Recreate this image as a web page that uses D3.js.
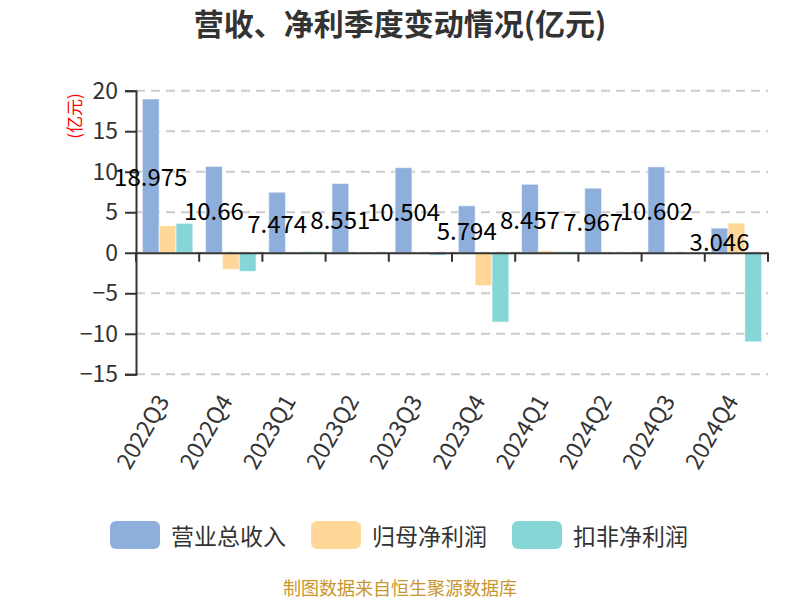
<!DOCTYPE html>
<html><head><meta charset="utf-8">
<script src="https://cdn.jsdelivr.net/npm/d3@7"></script>
<style>body{margin:0;background:#fff}svg{display:block}text{font-family:"Noto Sans CJK SC","Noto Sans",sans-serif}</style>
</head><body><svg id="c" width="800" height="600"></svg>
<script>
const categories = ['2022Q3','2022Q4','2023Q1','2023Q2','2023Q3','2023Q4','2024Q1','2024Q2','2024Q3','2024Q4'];
const revenue = [18.975,10.66,7.474,8.551,10.504,5.794,8.457,7.967,10.602,3.046];
const netProfit = [3.33,-2.05,0.1,0.05,0.05,-4.07,0.25,0.01,0.05,3.66];
const deductedProfit = [3.63,-2.3,0.15,0.02,-0.3,-8.56,0.16,0.05,0.02,-10.99];
const seriesNames = ['营业总收入','归母净利润','扣非净利润'];
const colors = ['#8EAEDB','#FFD899','#86D6D8'];
const yTicks = [-15,-10,-5,0,5,10,15,20];
const title = '营收、净利季度变动情况(亿元)';
const unit = '(亿元)';
const footer = '制图数据来自恒生聚源数据库';

const svg = d3.select('#c');
const x0 = 136, x1 = 768;
const y = d3.scaleLinear().domain([-15,20]).range([374.3,90.7]);
const x = d3.scaleBand().domain(categories).range([x0,x1]).padding(0);
const inner = d3.scaleBand().domain([0,1,2]).range([0.1*x.bandwidth(),0.9*x.bandwidth()]).padding(0);

// title
svg.append('text').attr('x',400).attr('y',22).attr('text-anchor','middle').attr('dominant-baseline','central')
  .attr('font-size',30).attr('font-weight','bold').attr('fill','#333').text(title);

// grid
svg.append('g').selectAll('line').data(yTicks).join('line')
  .attr('x1',x0).attr('x2',x1).attr('y1',d=>y(d)).attr('y2',d=>y(d))
  .attr('stroke','#ccc').attr('stroke-width',2).attr('stroke-dasharray','9,6');

// y axis
const ya = svg.append('g').attr('transform',`translate(${x0},0)`)
  .call(d3.axisLeft(y).tickValues(yTicks).tickSize(11).tickPadding(7));
ya.select('.domain').attr('stroke','#333').attr('stroke-width',2);
ya.selectAll('.tick line').attr('stroke','#333').attr('stroke-width',2);
ya.selectAll('.tick text').attr('font-size',23).attr('fill','#333').attr('font-family','"Noto Sans CJK SC",sans-serif');

// unit
svg.append('text').attr('transform','translate(73,116) rotate(-90)').attr('text-anchor','middle')
  .attr('dominant-baseline','central').attr('font-size',17).attr('fill','#f00').text(unit);

// bars
const series = [revenue, netProfit, deductedProfit];
series.forEach((vals,si)=>{
  svg.append('g').selectAll('rect').data(vals).join('rect')
    .attr('x',(d,i)=>x(categories[i])+inner(si))
    .attr('width',inner.bandwidth())
    .attr('y',d=>Math.min(y(d),y(0)))
    .attr('height',d=>Math.abs(y(d)-y(0)))
    .attr('fill',colors[si]).attr('stroke','#fff').attr('stroke-opacity',0.6).attr('stroke-width',1);
});

// x axis
const xa = svg.append('g').attr('transform',`translate(0,${y(0)})`)
  .call(d3.axisBottom(x).tickSize(0).tickFormat(''));
xa.select('.domain').attr('stroke','#333').attr('stroke-width',2);
svg.append('g').selectAll('line').data(d3.range(categories.length+1)).join('line')
  .attr('x1',i=>x0+i*x.bandwidth()).attr('x2',i=>x0+i*x.bandwidth())
  .attr('y1',y(0)).attr('y2',y(0)+9).attr('stroke','#333').attr('stroke-width',2);

// x labels
svg.append('g').selectAll('text').data(categories).join('text')
  .attr('transform',d=>`translate(${x(d)+x.bandwidth()/2-6},396) rotate(-60)`)
  .attr('text-anchor','end').attr('dominant-baseline','central')
  .attr('font-size',23).attr('fill','#333').text(d=>d);

// value labels
svg.append('g').selectAll('text').data(revenue).join('text')
  .attr('x',(d,i)=>x(categories[i])+inner(0)+inner.bandwidth()/2)
  .attr('y',d=>y(d/2))
  .attr('text-anchor','middle').attr('dominant-baseline','central')
  .attr('font-size',24).attr('fill','#000').text(d=>d);

// legend
const lx = [110,311,512];
seriesNames.forEach((n,i)=>{
  svg.append('rect').attr('x',lx[i]).attr('y',521).attr('width',50).attr('height',28).attr('rx',6)
    .attr('fill',colors[i]);
  svg.append('text').attr('x',lx[i]+61).attr('y',535).attr('dominant-baseline','central')
    .attr('font-size',23).attr('fill','#333').text(n);
});

// footer
svg.append('text').attr('x',400).attr('y',587).attr('text-anchor','middle').attr('dominant-baseline','central')
  .attr('font-size',18).attr('fill','#C8962E').text(footer);
</script></body></html>
